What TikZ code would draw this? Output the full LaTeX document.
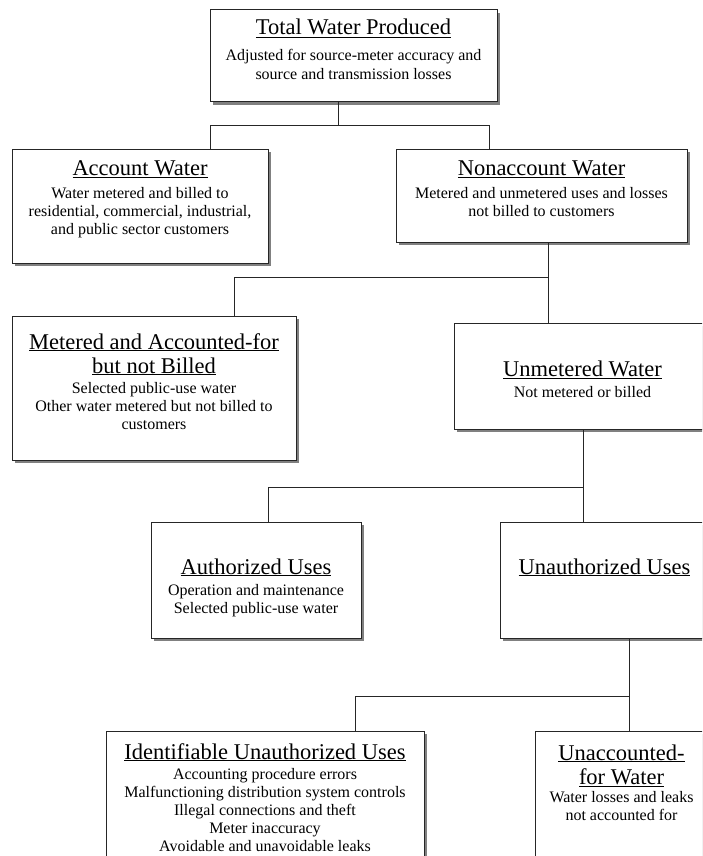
\documentclass[tikz,border=0pt]{standalone}
\usepackage{fontspec}
\setmainfont{Liberation Serif}
\usetikzlibrary{shadows}
\tikzset{
  box/.style={draw=black!85, line width=1pt, fill=white, anchor=north west,
    inner sep=0pt, outer sep=0pt,
    drop shadow={shadow xshift=3pt, shadow yshift=-3pt, fill=black!50, opacity=1}},
  ttl/.style={anchor=base, inner sep=0pt, font=\fontsize{22.5}{24.5}\selectfont},
  bdy/.style={anchor=base, inner sep=0pt, font=\fontsize{16}{18.2}\selectfont},
  conn/.style={draw=black!85, line width=1pt},
}
\newcommand{\blines}[1]{\begin{tabular}[t]{@{}c@{}}#1\end{tabular}}
\begin{document}
\begin{tikzpicture}[x=1pt,y=-1pt]
\useasboundingbox (0,0) rectangle (702,856);
\clip (0,0) rectangle (702,856);

% junction coordinates
\coordinate (c1) at (338,126); \coordinate (c1L) at (210,126); \coordinate (c1R) at (489,126);
\coordinate (c2) at (548,277); \coordinate (c2L) at (234,277);
\coordinate (c3) at (583,487); \coordinate (c3L) at (268,487);
\coordinate (c4) at (629,696); \coordinate (c4L) at (355,696);

% boxes
\node[box, minimum width=287pt, minimum height=92pt] (total) at (210,10) {};
\node[box, minimum width=256pt, minimum height=114pt] (account) at (12,149) {};
\node[box, minimum width=291pt, minimum height=93pt] (nonacc) at (396,149) {};
\node[box, minimum width=284pt, minimum height=144pt] (meter) at (12,316) {};
\node[box, minimum width=257pt, minimum height=106pt] (unmet) at (454,323) {};
\node[box, minimum width=210pt, minimum height=116pt] (auth) at (151,522) {};
\node[box, minimum width=209pt, minimum height=116pt] (unauth) at (500,522) {};
\node[box, minimum width=318pt, minimum height=150pt] (ident) at (106,731) {};
\node[box, minimum width=173pt, minimum height=150pt] (unacc) at (535,731) {};

% connectors
\draw[conn] (c1 |- total.south) -- (c1);
\draw[conn] (c1L |- account.north) -- (c1L) -- (c1R) -- (c1R |- nonacc.north);
\draw[conn] (c2 |- nonacc.south) -- (c2 |- unmet.north);
\draw[conn] (c2) -- (c2L) -- (c2L |- meter.north);
\draw[conn] (c3 |- unmet.south) -- (c3 |- unauth.north);
\draw[conn] (c3) -- (c3L) -- (c3L |- auth.north);
\draw[conn] (c4 |- unauth.south) -- (c4 |- unacc.north);
\draw[conn] (c4) -- (c4L) -- (c4L |- ident.north);

% texts
\node[ttl] (totalT) at (353.5,35) {\blines{\underline{Total Water Produced}}};
\node[bdy] (totalB) at (353.5,61) {\blines{Adjusted for source-meter accuracy and\\ source and transmission losses}};

\node[ttl] (accountT) at (140,175) {\blines{\underline{Account Water}}};
\node[bdy] (accountB) at (140,198) {\blines{Water metered and billed to\\ residential, commercial, industrial,\\ and public sector customers}};

\node[ttl] (nonaccT) at (541.5,175) {\blines{\underline{Nonaccount Water}}};
\node[bdy] (nonaccB) at (541.5,198) {\blines{Metered and unmetered uses and losses\\ not billed to customers}};

\node[ttl, font=\fontsize{22.5}{24}\selectfont] (meterT) at (154,349) {\blines{\underline{Metered and Accounted-for}\\ \underline{but not Billed}}};
\node[bdy] (meterB) at (154,393) {\blines{Selected public-use water\\ Other water metered but not billed to\\ customers}};

\node[ttl] (unmetT) at (582.5,376) {\blines{\underline{Unmetered Water}}};
\node[bdy] (unmetB) at (582.5,397) {\blines{Not metered or billed}};

\node[ttl] (authT) at (256,574) {\blines{\underline{Authorized Uses}}};
\node[bdy] (authB) at (256,595) {\blines{Operation and maintenance\\ Selected public-use water}};

\node[ttl] (unauthT) at (604.5,574) {\blines{\underline{Unauthorized Uses}}};

\node[ttl] (identT) at (265,759) {\blines{\underline{Identifiable Unauthorized Uses}}};
\node[bdy] (identB) at (265,779) {\blines{Accounting procedure errors\\ Malfunctioning distribution system controls\\ Illegal connections and theft\\ Meter inaccuracy\\ Avoidable and unavoidable leaks}};

\node[ttl] (unaccT) at (621.5,760) {\blines{\underline{Unaccounted-}\\ \underline{for Water}}};
\node[bdy] (unaccB) at (621.5,802) {\blines{Water losses and leaks\\ not accounted for}};
\end{tikzpicture}
\end{document}
